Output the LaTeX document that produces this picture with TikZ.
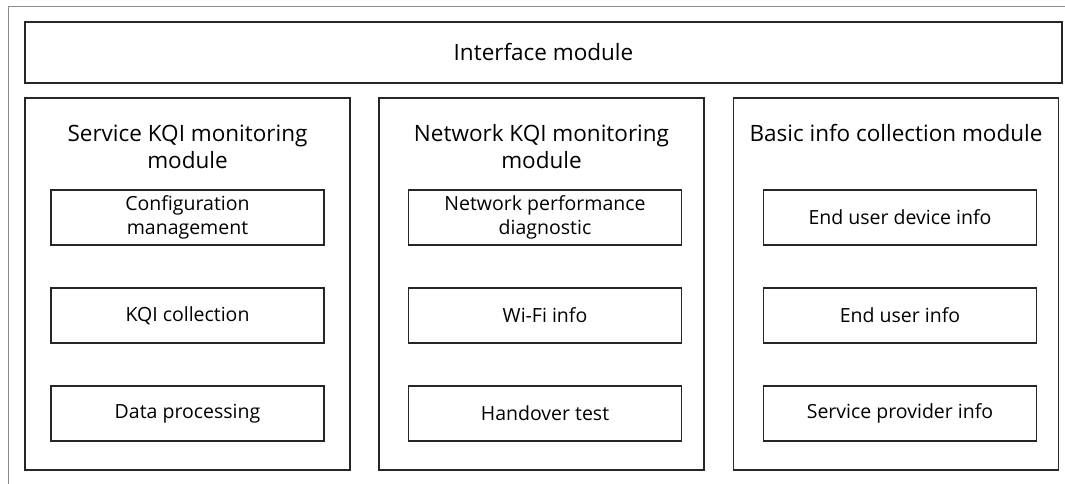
\documentclass[tikz,border=0pt]{standalone}
\usepackage{fontspec}
\setmainfont{Open Sans}
\usetikzlibrary{positioning}

\newcommand\modtextstyle{\fontsize{22.5}{27}\selectfont}
\newcommand\subtextstyle{\fontsize{19.5}{23.5}\selectfont}
\newcommand\colwidth{325}
\newcommand\colheight{372}
\newcommand\subwidth{273}
\newcommand\subheight{55}

\tikzset{
  modbox/.style={draw=black!85, line width=1.1pt, minimum width=\colwidth pt,
    minimum height=\colheight pt, inner sep=0pt},
  subbox/.style={draw=black!85, line width=1.1pt, minimum width=\subwidth pt,
    minimum height=\subheight pt, align=center, font=\subtextstyle, inner sep=0pt},
  modtitle/.style={align=center, font=\modtextstyle, inner sep=0pt},
}

\begin{document}
\begin{tikzpicture}[x=1pt, y=-1pt]
    \useasboundingbox (0,0) rectangle (1065,484);
    % outer frame, cut off at right and bottom
    \draw[black!45, line width=0.9pt] (8,484) -- (8,6) -- (1065,6);
    % top module
    \node[draw=black!85, line width=1.1pt, minimum width=1037pt, minimum height=61pt,
      font=\modtextstyle] (iface) at (543.5,52.5) {Interface module};
    % three columns
    \node[modbox] (svc) at (187.5,284) {};
    \node[modbox] (net) at (541.5,284) {};
    \node[modbox] (basic) at (896,284) {};
    \node[modtitle] (svc-t) at (187.5,146.5) {Service KQI monitoring\\module};
    \node[modtitle] (net-t) at (541.5,146.5) {Network KQI monitoring\\module};
    \node[modtitle] (basic-t) at (896,133) {Basic info collection module};
    % sub modules
    \foreach \n/\y/\txt in {1/217.5/{Configuration\\management}, 2/315.5/KQI collection,
        3/413.5/Data processing}
      \node[subbox] (svc-\n) at (187.5,\y) {\txt};
    \foreach \n/\y/\txt in {1/217.5/{Network performance\\diagnostic}, 2/315.5/Wi-Fi info,
        3/413.5/Handover test}
      \node[subbox] (net-\n) at (545,\y) {\txt};
    \foreach \n/\y/\txt in {1/217.5/End user device info, 2/315.5/End user info,
        3/413.5/Service provider info}
      \node[subbox] (basic-\n) at (900,\y) {\txt};
\end{tikzpicture}
\end{document}
